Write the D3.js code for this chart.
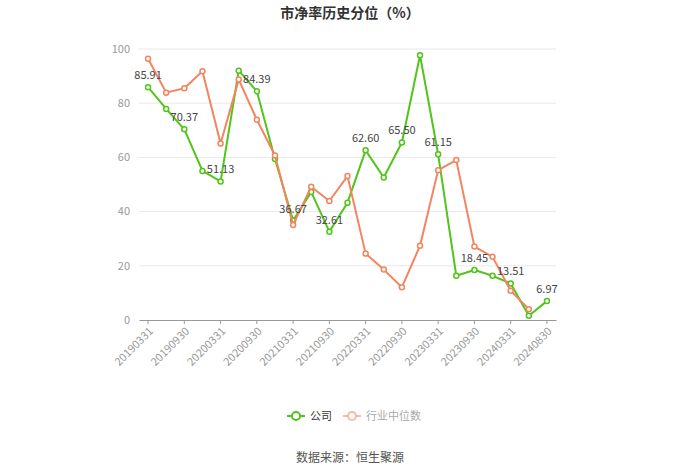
<!DOCTYPE html>
<html><head><meta charset="utf-8">
<script src="https://cdn.jsdelivr.net/npm/d3@7"></script>
<style>body{margin:0;background:#fff;}svg{display:block;font-family:"Noto Sans CJK SC","Noto Sans",sans-serif;}</style>
</head><body><svg id="c" width="700" height="474"></svg>
<script>
const categories = ["20190331","20190630","20190930","20191231","20200331","20200630","20200930","20201231","20210331","20210630","20210930","20211231","20220331","20220630","20220930","20221231","20230331","20230630","20230930","20231231","20240331","20240630","20240830"];
const companyValues = [85.91,77.9,70.37,55.0,51.13,92.0,84.39,59.4,36.67,47.2,32.61,43.3,62.60,52.6,65.50,97.7,61.15,16.3,18.45,16.3,13.51,1.6,6.97];
const industryValues = [96.4,83.9,85.5,91.8,65.1,88.7,73.9,60.7,35.1,49.2,43.9,53.1,24.5,18.6,12.1,27.4,55.3,59.0,27.1,23.3,10.8,4.0,null];
const yTicks = [0,20,40,60,80,100];
const seriesNames = ["公司","行业中位数"];
const title = "市净率历史分位（%）";
const source = "数据来源：恒生聚源";

(function(){
const svg = d3.select("#c");
const green = "#52c41a", orange = "#f4845f";
const pLeft = 139, pRight = 556, pTop = 49, pBottom = 320;

const x = d3.scaleBand().domain(categories).range([pLeft, pRight]);
const cx = d => x(d) + x.bandwidth()/2;
const y = d3.scaleLinear().domain([0,100]).range([pBottom, pTop]);

svg.append("text").attr("x",350).attr("y",18).attr("text-anchor","middle")
  .attr("font-size",14).attr("font-weight","bold").attr("fill","#333").text(title);

svg.append("g").selectAll("line").data(yTicks.filter(t=>t>0)).join("line")
  .attr("x1",pLeft).attr("x2",pRight).attr("y1",d=>y(d)).attr("y2",d=>y(d))
  .attr("stroke","#e8e8e8").attr("stroke-width",1);

svg.append("g").selectAll("text").data(yTicks).join("text")
  .attr("x",130).attr("y",d=>y(d)).attr("dy","0.35em").attr("text-anchor","end")
  .attr("font-size",11).attr("fill","#999").text(d=>d);

const xAxis = d3.axisBottom(x).tickValues(categories.filter((d,i)=>i%2===0)).tickSize(4).tickSizeOuter(0);
const gx = svg.append("g").attr("transform",`translate(0,${pBottom})`).call(xAxis);
gx.select(".domain").attr("stroke","#999");
gx.selectAll(".tick line").attr("stroke","#999");
gx.selectAll(".tick text").attr("font-size",11).attr("fill","#999")
  .attr("font-family","'Noto Sans CJK SC','Noto Sans',sans-serif")
  .attr("text-anchor","end").attr("transform","rotate(-45)").attr("dx","-0.4em").attr("dy","0.5em");

function drawSeries(vals, color) {
  const line = d3.line().defined(d=>d.v!=null).x(d=>cx(d.c)).y(d=>y(d.v));
  const data = categories.map((c,i)=>({c, v: vals[i]}));
  svg.append("path").datum(data).attr("d",line).attr("fill","none")
    .attr("stroke",color).attr("stroke-width",2).attr("stroke-linejoin","round");
  svg.append("g").selectAll("circle").data(data.filter(d=>d.v!=null)).join("circle")
    .attr("cx",d=>cx(d.c)).attr("cy",d=>y(d.v)).attr("r",2.5)
    .attr("fill","#fff").attr("stroke",color).attr("stroke-width",1.5);
  return data;
}
const gData = drawSeries(companyValues, green);
drawSeries(industryValues, orange);

svg.append("g").selectAll("text").data(gData.filter((d,i)=>i%2===0)).join("text")
  .attr("x",d=>cx(d.c)).attr("y",d=>y(d.v)-8).attr("text-anchor","middle")
  .attr("font-size",11).attr("fill","#444").text(d=>d.v.toFixed(2));

const lg = svg.append("g");
function legendItem(x0, color, text, textColor) {
  lg.append("line").attr("x1",x0).attr("x2",x0+18).attr("y1",416).attr("y2",416).attr("stroke",color).attr("stroke-width",2);
  lg.append("circle").attr("cx",x0+9).attr("cy",416).attr("r",4).attr("fill","#fff").attr("stroke",color).attr("stroke-width",2);
  lg.append("text").attr("x",x0+23).attr("y",416).attr("dy","0.35em").attr("font-size",11).attr("fill",textColor).text(text);
}
legendItem(287, green, seriesNames[0], "#333");
legendItem(343, "#f9b9a2", seriesNames[1], "#aaa");

svg.append("text").attr("x",350).attr("y",458).attr("dy","0.35em").attr("text-anchor","middle")
  .attr("font-size",12).attr("fill","#555").text(source);
})();
</script></body></html>
